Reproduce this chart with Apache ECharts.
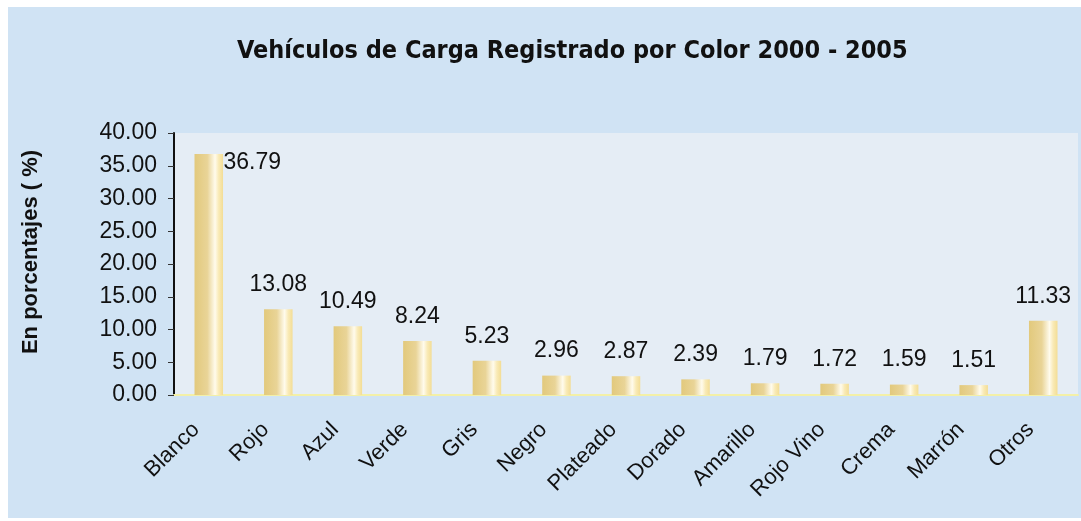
<!DOCTYPE html>
<html>
<head>
<meta charset="utf-8">
<script src="https://cdn.jsdelivr.net/npm/echarts@6/dist/echarts.min.js"></script>
<style>
  html, body { margin: 0; padding: 0; background: #ffffff; }
  #chart { width: 1081px; height: 521px; }
</style>
</head>
<body>
<div id="chart"></div>
<script>
// categorias y valores (porcentajes)
const colores = ['Blanco', 'Rojo', 'Azul', 'Verde', 'Gris', 'Negro', 'Plateado', 'Dorado', 'Amarillo', 'Rojo Vino', 'Crema', 'Marrón', 'Otros'];
const porcentajes = [36.79, 13.08, 10.49, 8.24, 5.23, 2.96, 2.87, 2.39, 1.79, 1.72, 1.59, 1.51, 11.33];

const chart = echarts.init(document.getElementById('chart'));

const barFill = new echarts.graphic.LinearGradient(0, 0, 1, 0, [
  { offset: 0, color: '#e2c97c' },
  { offset: 0.45, color: '#e9d497' },
  { offset: 0.72, color: '#fffbec' },
  { offset: 0.85, color: '#f9eab6' },
  { offset: 1, color: '#f3dd95' }
]);

const option = {
  backgroundColor: '#ffffff',
  graphic: [{
    type: 'rect',
    z: -10,
    shape: { x: 8, y: 7, width: 1073, height: 511 },
    style: { fill: '#d0e3f4' }
  }],
  title: {
    text: 'Vehículos de Carga Registrado por Color 2000 - 2005',
    left: 232,
    top: 34,
    textStyle: {
      fontFamily: 'Liberation Sans Narrow, DejaVu Sans Condensed, Liberation Sans',
      fontWeight: 'bold',
      fontSize: 25,
      color: '#111'
    }
  },
  grid: {
    left: 174, right: 3, top: 133, bottom: 126,
    show: true,
    backgroundColor: '#e5edf5',
    borderWidth: 0
  },
  xAxis: {
    type: 'category',
    data: colores,
    axisLine: { lineStyle: { color: '#f3f0a8', width: 2 } },
    axisTick: { show: false },
    axisLabel: {
      rotate: 45,
      margin: 44,
      verticalAlign: 'bottom',
      padding: [0, 0, 7, 0],
      fontFamily: 'Liberation Sans, Arial',
      fontSize: 22,
      color: '#111'
    }
  },
  yAxis: {
    type: 'value',
    min: 0, max: 40, interval: 5,
    name: 'En porcentajes ( %)',
    nameLocation: 'middle',
    nameRotate: 90,
    nameGap: 132,
    nameTextStyle: {
      fontFamily: 'Liberation Sans, Arial',
      fontWeight: 'bold',
      fontSize: 22,
      padding: [0, 0, 0, 24],
      color: '#111'
    },
    axisLine: { show: true, lineStyle: { color: '#111', width: 2 } },
    axisTick: { show: true, length: 6, lineStyle: { color: '#333', width: 1 } },
    splitLine: { show: false },
    axisLabel: {
      formatter: v => v.toFixed(2),
      margin: 17,
      fontFamily: 'Liberation Sans, Arial',
      fontSize: 23,
      color: '#111'
    }
  },
  series: [{
    type: 'bar',
    barWidth: '41%',
    data: porcentajes.map((v, i) => i === 0
      ? { value: v, label: { position: [29, -3], align: 'left', verticalAlign: 'top' } }
      : v),
    itemStyle: { color: barFill },
    label: {
      show: true,
      position: 'top',
      distance: 13,
      formatter: p => p.value.toFixed(2),
      fontFamily: 'Liberation Sans, Arial',
      fontSize: 23,
      color: '#111'
    }
  }]
};

chart.setOption(option);
</script>
</body>
</html>
